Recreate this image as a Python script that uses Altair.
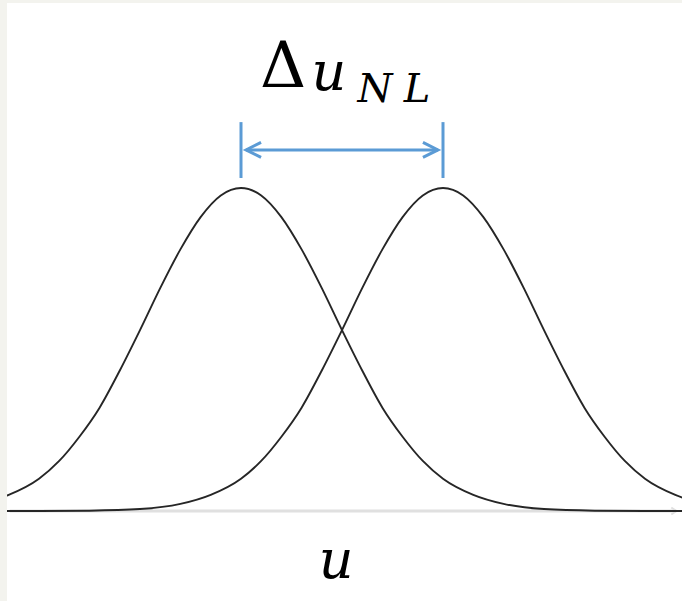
import altair as alt
import pandas as pd

# Peak centres of the two response curves, in units of u
centers = [-1.0, 1.0]
curve_names = ["left", "right"]

# Bell profile: height relative to the peak, at a distance from the centre
profile_offset = [0.0, 0.2, 0.4, 0.6, 0.8, 1.0, 1.2, 1.4, 1.6, 1.8, 2.0, 2.3, 2.6, 3.0, 3.5, 4.0, 4.6]
profile_height = [1.0, 0.977, 0.91, 0.81, 0.69, 0.56, 0.435, 0.32, 0.23, 0.155, 0.10, 0.05, 0.022, 0.006, 0.001, 0.0, 0.0]

# Horizontal axis extent
axis_start = -3.29
axis_end = 3.31

# Separation bracket between the two peaks
bracket_top = 1.204
bracket_bottom = 1.031
bracket_level = 1.118
shaft_end = 0.95

# Label glyphs: Δ, u and the subscript letters N, L
label_text = ["Δ", "u", "N", "L"]
label_u = [-0.584, -0.13, 0.327, 0.743]
label_h = [1.312, 1.303, 1.266, 1.266]
axis_label = "u"
axis_label_u = -0.059
axis_label_h = -0.207

SERIF = "DejaVu Serif"
BLUE = "#5b9bd5"
INK = "#262626"
AXIS_GREY = "#e0e0e0"

rows = []
for name, c in zip(curve_names, centers):
    pts = []
    for o, h in zip(profile_offset, profile_height):
        pts.append((c - o, h))
        if o != 0:
            pts.append((c + o, h))
    for u, h in sorted(pts):
        rows.append({"curve": name, "u": u, "h": h})
curves = pd.DataFrame(rows)

xs = alt.Scale(domain=[-335 / 101, 340 / 101], nice=False, zero=False)
ys = alt.Scale(domain=[-90 / 323, 508 / 323], nice=False, zero=False)


def X(field="u"):
    return alt.X(f"{field}:Q", scale=xs, axis=None)


def Y(field="h"):
    return alt.Y(f"{field}:Q", scale=ys, axis=None)


axis_df = pd.DataFrame({"u": [axis_start], "u2": [axis_end], "h": [0.0]})
axis_line = alt.Chart(axis_df).mark_rule(color=AXIS_GREY, strokeWidth=3).encode(
    x=X(), x2="u2:Q", y=Y()
)
axis_head = alt.Chart(pd.DataFrame({"u": [axis_end], "h": [0.0]})).mark_point(
    shape="M -1 -0.7 L 0 0 L -1 0.7", size=100, filled=False,
    color=AXIS_GREY, strokeWidth=2, opacity=1
).encode(x=X(), y=Y())

curve_lines = alt.Chart(curves).mark_line(
    color=INK, strokeWidth=1.9, interpolate="monotone", clip=True
).encode(x=X(), y=Y(), detail="curve:N", order="u:Q")

ticks_df = pd.DataFrame({"u": centers, "h": [bracket_bottom] * 2, "h2": [bracket_top] * 2})
ticks = alt.Chart(ticks_df).mark_rule(color=BLUE, strokeWidth=3).encode(
    x=X(), y=Y(), y2="h2:Q"
)

shaft_df = pd.DataFrame({"u": [-shaft_end], "u2": [shaft_end], "h": [bracket_level]})
shaft = alt.Chart(shaft_df).mark_rule(color=BLUE, strokeWidth=3).encode(
    x=X(), x2="u2:Q", y=Y()
)
head_left = alt.Chart(pd.DataFrame({"u": [-shaft_end], "h": [bracket_level]})).mark_point(
    shape="M 1 -0.5 L 0 0 L 1 0.5", size=900, filled=False,
    color=BLUE, strokeWidth=3, opacity=1
).encode(x=X(), y=Y())
head_right = alt.Chart(pd.DataFrame({"u": [shaft_end], "h": [bracket_level]})).mark_point(
    shape="M -1 -0.5 L 0 0 L -1 0.5", size=900, filled=False,
    color=BLUE, strokeWidth=3, opacity=1
).encode(x=X(), y=Y())

labels = pd.DataFrame({"t": label_text, "u": label_u, "h": label_h})


def glyph(i, size, style="normal"):
    return alt.Chart(labels.iloc[[i]]).mark_text(
        font=SERIF, fontStyle=style, fontSize=size, color="black",
        baseline="alphabetic", align="center"
    ).encode(x=X(), y=Y(), text="t:N")


delta = glyph(0, 64)
u_sym = glyph(1, 54, "italic")
sub_n = glyph(2, 40, "italic")
sub_l = glyph(3, 40, "italic")

xlab = alt.Chart(pd.DataFrame({"t": [axis_label], "u": [axis_label_u], "h": [axis_label_h]})).mark_text(
    font=SERIF, fontStyle="italic", fontSize=54, color="black",
    baseline="alphabetic", align="center"
).encode(x=X(), y=Y(), text="t:N")

chart = alt.layer(
    axis_line, axis_head, curve_lines, ticks, shaft, head_left, head_right,
    delta, u_sym, sub_n, sub_l, xlab
).properties(
    width=675, height=598,
    autosize=alt.AutoSizeParams(type="none"),
    padding={"left": 7, "top": 3, "right": 0, "bottom": 0},
    background="#f3f3ee",
).configure_view(stroke=None, fill="white")

chart.save("out.html", embed_options={"renderer": "svg", "actions": False})
